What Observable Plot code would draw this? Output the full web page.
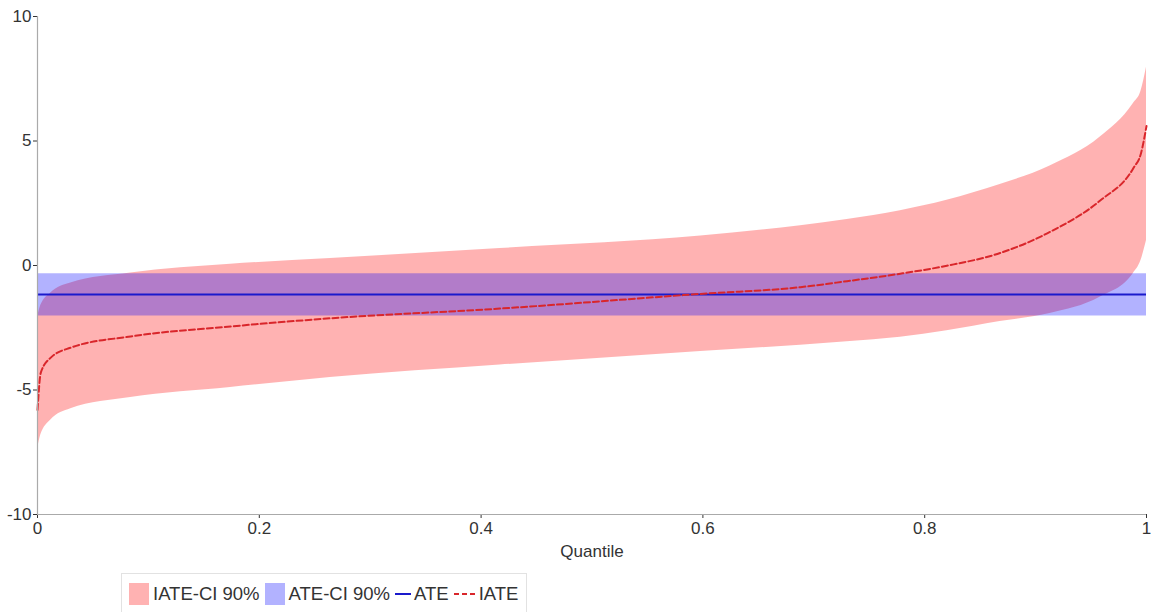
<!DOCTYPE html>
<html>
<head>
<meta charset="utf-8">
<script src="https://cdn.jsdelivr.net/npm/d3@7"></script>
<script src="https://cdn.jsdelivr.net/npm/@observablehq/plot@0.6"></script>
<style>
  html, body { margin: 0; padding: 0; background: #fff; }
  body { width: 1151px; height: 612px; overflow: hidden; font-family: "Liberation Sans", Arial, sans-serif; }
  #chart svg { display: block; }
  .legend { position: absolute; left: 121px; top: 573px; height: 50px; width: 406px; border: 1px solid #e2e2e2; box-sizing: border-box; font-size: 18.5px; color: #333; }
  .legend .row { display: flex; align-items: center; height: 40px; padding-left: 7px; }
  .legend .sw { width: 20px; height: 22px; margin-right: 4px; }
  .legend .item { display: flex; align-items: center; margin-right: 5px; white-space: nowrap; }
  .legend svg { margin-right: 3px; }
</style>
</head>
<body>
<div id="chart"></div>
<div class="legend"><div class="row">
  <span class="item"><span class="sw" style="background:#ffb2b2"></span>IATE-CI 90%</span>
  <span class="item"><span class="sw" style="background:#b2b2ff"></span>ATE-CI 90%</span>
  <span class="item"><svg width="16" height="10"><line x1="0" y1="5" x2="16" y2="5" stroke="#1a1acc" stroke-width="2"/></svg>ATE</span>
  <span class="item"><svg width="22" height="10"><line x1="0" y1="5" x2="22" y2="5" stroke="#d9262b" stroke-width="2" stroke-dasharray="5,3"/></svg>IATE</span>
</div></div>
<script>
const quantile = [0, 0.003, 0.012, 0.03, 0.084, 0.174, 0.264, 0.417, 0.598, 0.688, 0.73, 0.778, 0.82, 0.868, 0.913, 0.958, 0.988, 0.995, 1];
const iate     = [-5.8, -4.3, -3.7, -3.3, -2.85, -2.45, -2.12, -1.73, -1.14, -0.87, -0.63, -0.33, -0.01, 0.5, 1.35, 2.6, 3.9, 4.5, 5.6];
const iateLow  = [-7.4, -6.8, -6.2, -5.75, -5.3, -4.9, -4.5, -4.0, -3.45, -3.2, -3.06, -2.88, -2.62, -2.25, -1.93, -1.28, -0.33, 0.2, 1.0];
const iateHigh = [-2.1, -1.6, -1.1, -0.7, -0.3, 0.05, 0.28, 0.68, 1.18, 1.6, 1.85, 2.2, 2.62, 3.25, 4.0, 5.15, 6.5, 7.0, 7.96];
const ateValue = -1.16;
const ateLow = -2.03;
const ateHigh = -0.33;
const xTicks = [0, 0.2, 0.4, 0.6, 0.8, 1];
const yTicks = [-10, -5, 0, 5, 10];

const iateData = quantile.map((q, i) => ({q, v: iate[i], lo: iateLow[i], hi: iateHigh[i]}));
const ateBand = [{q: 0, lo: ateLow, hi: ateHigh}, {q: 1, lo: ateLow, hi: ateHigh}];

const chart = Plot.plot({
  width: 1151,
  height: 570,
  marginLeft: 37,
  marginRight: 5,
  marginTop: 16,
  marginBottom: 56,
  style: {fontSize: "17px", fontFamily: "Liberation Sans, Arial, sans-serif", color: "#333", background: "#fff"},
  x: {domain: [0, 1], ticks: xTicks, tickFormat: d => String(d), label: "Quantile", labelAnchor: "center", labelArrow: "none", labelOffset: 42, tickSize: 4, tickPadding: 3},
  y: {domain: [-10, 10], ticks: yTicks, tickFormat: d => String(d), label: null, tickSize: 4, tickPadding: 2},
  marks: [
    Plot.areaY(iateData, {x: "q", y1: "lo", y2: "hi", fill: "#ff0000", fillOpacity: 0.3, curve: "monotone-x"}),
    Plot.areaY(ateBand, {x: "q", y1: "lo", y2: "hi", fill: "#0000ff", fillOpacity: 0.3}),
    Plot.ruleY([ateValue], {stroke: "#1a1acc", strokeWidth: 2}),
    Plot.lineY(iateData, {x: "q", y: "v", stroke: "#d9262b", strokeWidth: 2, strokeDasharray: "6,3", curve: "monotone-x"}),
    Plot.ruleX([0], {stroke: "#aaa", strokeWidth: 1.2}),
    Plot.ruleY([-10], {stroke: "#aaa", strokeWidth: 1.2})
  ]
});
document.getElementById("chart").appendChild(chart);
</script>
</body>
</html>
